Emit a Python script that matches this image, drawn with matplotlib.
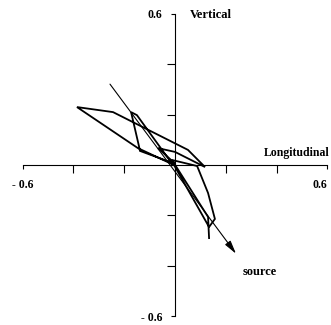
import matplotlib
matplotlib.use("Agg")
import matplotlib.pyplot as plt

# particle-motion trajectory (longitudinal, vertical)
traj_x = [-0.008, -0.150, -0.173, -0.142, -0.138, 0.002, -0.067, 0.000, 0.118,
          0.051, -0.244, -0.386, -0.146, -0.004, 0.134, 0.157, 0.130, 0.087,
          -0.012, 0.130, 0.134]
traj_y = [0.000, 0.198, 0.210, 0.075, 0.056, 0.004, 0.067, 0.052, -0.008,
          0.060, 0.210, 0.230, 0.067, 0.000, -0.246, -0.214, -0.111, -0.004,
          0.020, -0.206, -0.290]

# source direction arrow (start, end)
arrow_x = [-0.256, 0.240]
arrow_y = [0.321, -0.352]

major_ticks = [-0.4, -0.2, 0.2, 0.4]
end_ticks = [-0.6, 0.6]
end_labels = ["- 0.6", "0.6"]

plt.rcParams['font.family'] = ['Liberation Serif', 'DejaVu Serif']
plt.rcParams['font.weight'] = 'bold'

fig = plt.figure(figsize=(3.31, 3.25), dpi=100)
ax = fig.add_axes([0, 0, 1, 1])
ax.set_xlim(-0.689, 0.614)
ax.set_ylim(-0.635, 0.655)

for s in ['top', 'right']:
    ax.spines[s].set_visible(False)
ax.spines['left'].set_position('zero')
ax.spines['bottom'].set_position('zero')
ax.spines['left'].set_bounds(-0.6, 0.6)
ax.spines['bottom'].set_bounds(-0.6, 0.6)
for s in ['left', 'bottom']:
    ax.spines[s].set_linewidth(0.8)

ax.set_xticks(major_ticks, labels=[''] * len(major_ticks))
ax.set_yticks(major_ticks, labels=[''] * len(major_ticks))
ax.set_xticks(end_ticks, labels=end_labels, minor=True)
ax.set_yticks(end_ticks, labels=end_labels, minor=True)
ax.tick_params(which='major', direction='out', length=6, width=0.8)
ax.tick_params(which='minor', direction='out', length=3, width=0.8, labelsize=8.5)
ax.tick_params(axis='x', which='minor', pad=7)
ax.tick_params(axis='y', which='minor', pad=6)
for lab in ax.get_xticklabels(minor=True) + ax.get_yticklabels(minor=True):
    lab.set_fontweight('bold')
xl = ax.get_xticklabels(minor=True)
xl[0].set_horizontalalignment('center')
xl[1].set_horizontalalignment('right')

ax.plot(traj_x, traj_y, color='black', lw=1.3, solid_joinstyle='miter')

ax.annotate('', xy=(arrow_x[1], arrow_y[1]), xytext=(arrow_x[0], arrow_y[0]),
            arrowprops=dict(arrowstyle='-|>,head_length=0.8,head_width=0.2',
                            color='black', lw=0.8, shrinkA=0, shrinkB=0))

ax.text(0.059, 0.595, 'Vertical', fontsize=9, fontweight='bold', ha='left', va='center')
ax.text(0.608, 0.048, 'Longitudinal', fontsize=8.5, fontweight='bold', ha='right', va='center')
ax.text(0.268, -0.425, 'source', fontsize=9, fontweight='bold', ha='left', va='center')

fig.savefig('out.png', dpi=100)
